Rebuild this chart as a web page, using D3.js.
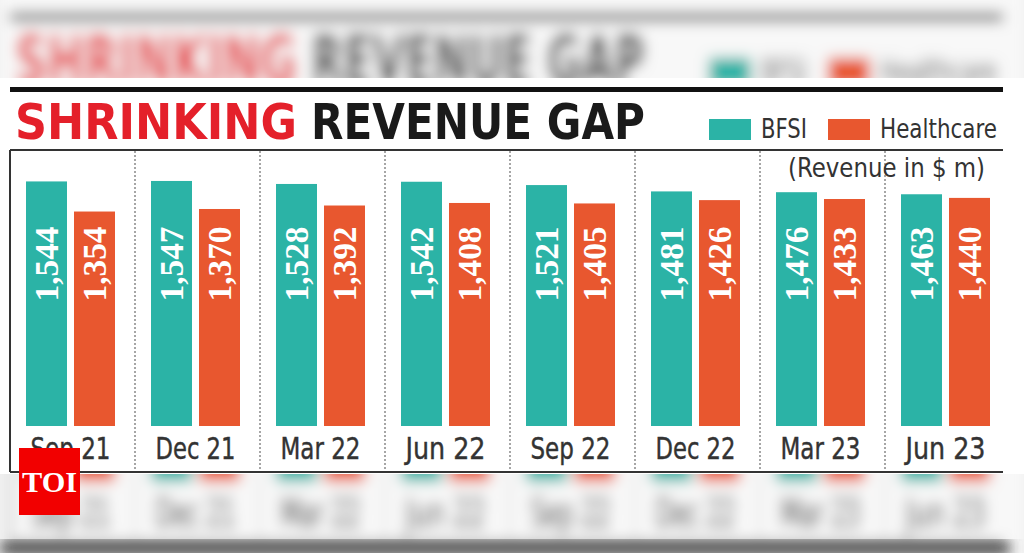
<!DOCTYPE html>
<html><head><meta charset="utf-8">
<script src="https://cdn.jsdelivr.net/npm/d3@7"></script>
<style>
html,body{margin:0;padding:0;background:#f2f2f2;overflow:hidden}
svg{display:block}
</style></head>
<body>
<svg id="c" width="1024" height="553"></svg>
<script>
// ---- data ----
const categories = ["Sep 21","Dec 21","Mar 22","Jun 22","Sep 22","Dec 22","Mar 23","Jun 23"];
const bfsi       = [1544, 1547, 1528, 1542, 1521, 1481, 1476, 1463];
const healthcare = [1354, 1370, 1392, 1408, 1405, 1426, 1433, 1440];
const seriesNames = ["BFSI", "Healthcare"];
const titleRed = "SHRINKING";
const titleBlack = "REVENUE GAP";
const unitNote = "(Revenue in $ m)";

const colors = {BFSI: "#2bb3a6", Healthcare: "#e8572f"};
const narrow = "'Liberation Sans Narrow','DejaVu Sans Condensed','Roboto Condensed',Roboto,'Liberation Sans',sans-serif";
const heavy = "'DejaVu Sans Condensed','DejaVu Sans','Liberation Sans',sans-serif";
const serif = "'Liberation Serif','DejaVu Serif',serif";

const svg = d3.select("#c");
const W = 1024, H = 553;

const x0 = d3.scaleBand().domain(categories).range([10, 1010]).padding(0);
const x1 = d3.scaleBand().domain(seriesNames).range([16, 105]).paddingInner(0.146).paddingOuter(0);
const y = d3.scaleLinear().domain([0, 1600]).range([426, 426 - 1600 * 0.1584]);

const rows = categories.map((c, i) => ({cat: c, values: [
  {key: "BFSI", v: bfsi[i]}, {key: "Healthcare", v: healthcare[i]}]}));

function draw(g, main) {
  // thick rule
  g.append("rect").attr("x", 10).attr("y", 87).attr("width", 993).attr("height", 5).attr("fill", "#111");
  // title
  g.append("text").attr("x", 15).attr("y", 139)
    .attr("font-family", heavy).attr("font-weight", "bold").attr("font-size", 50)
    .attr("fill", "#e4202a").attr("textLength", 282).attr("lengthAdjust", "spacingAndGlyphs")
    .text(titleRed);
  g.append("text").attr("x", 311).attr("y", 139)
    .attr("font-family", heavy).attr("font-weight", "bold").attr("font-size", 50)
    .attr("fill", "#1a1a1a").attr("textLength", 334).attr("lengthAdjust", "spacingAndGlyphs")
    .text(titleBlack);
  // legend
  const legX = [709, 828], legTW = [46, 117];
  seriesNames.forEach((s, i) => {
    g.append("rect").attr("x", legX[i]).attr("y", 119).attr("width", 42).attr("height", 21).attr("fill", colors[s]);
    g.append("text").attr("x", legX[i] + 52).attr("y", 138)
      .attr("font-family", narrow).attr("font-size", 26).attr("fill", "#333")
      .attr("textLength", legTW[i]).attr("lengthAdjust", "spacingAndGlyphs").text(s);
  });
  // box lines
  g.append("line").attr("x1", 10).attr("x2", 1003).attr("y1", 150).attr("y2", 150).attr("stroke", "#333").attr("stroke-width", 2);
  g.append("line").attr("x1", 10).attr("x2", 1003).attr("y1", 472).attr("y2", 472).attr("stroke", "#333").attr("stroke-width", main ? 2 : 4);
  g.append("line").attr("x1", 10).attr("x2", 10).attr("y1", 150).attr("y2", 472).attr("stroke", "#333").attr("stroke-width", 2);
  // separators
  g.selectAll(".sep").data(categories.slice(1)).enter().append("line")
    .attr("x1", d => x0(d)).attr("x2", d => x0(d)).attr("y1", 151).attr("y2", 471)
    .attr("stroke", "#777").attr("stroke-width", 1.3).attr("stroke-dasharray", "2,2");
  // unit note (hidden under the panel in the blurred copy, so only drawn in main)
  if (main) {
    g.append("text").attr("x", 985).attr("y", 177).attr("text-anchor", "end")
      .attr("font-family", narrow).attr("font-size", 27).attr("fill", "#333")
      .attr("textLength", 197).attr("lengthAdjust", "spacingAndGlyphs").text(unitNote);
  }
  // bars
  const grp = g.selectAll(".grp").data(rows).enter().append("g")
    .attr("transform", d => `translate(${x0(d.cat)},0)`);
  grp.selectAll("rect").data(d => d.values).enter().append("rect")
    .attr("x", d => x1(d.key)).attr("y", d => y(d.v))
    .attr("width", x1.bandwidth()).attr("height", d => y(0) - y(d.v))
    .attr("fill", d => colors[d.key]);
  if (main) {
    grp.selectAll(".val").data(d => d.values).enter().append("text")
      .attr("transform", d => `translate(${x1(d.key) + x1.bandwidth() / 2},264) rotate(-90)`)
      .attr("x", 0).attr("y", 11.5).attr("text-anchor", "middle")
      .attr("font-family", serif).attr("font-weight", "bold").attr("font-size", 34)
      .attr("fill", "#fff").attr("textLength", 75).attr("lengthAdjust", "spacingAndGlyphs")
      .text(d => d3.format(",")(d.v));
  }
  // category labels
  grp.append("text").attr("x", x1.range()[0] + (x1.range()[1] - x1.range()[0]) / 2).attr("y", 459)
    .attr("text-anchor", "middle").attr("font-family", narrow).attr("font-size", 30)
    .attr("fill", "#333").attr("stroke", "#333").attr("stroke-width", 0.4)
    .attr("textLength", 80).attr("lengthAdjust", "spacingAndGlyphs")
    .text(d => d.cat);
}

// blurred background copy
const defs = svg.append("defs");
defs.append("filter").attr("id", "blur").attr("x", "-10%").attr("y", "-10%").attr("width", "120%").attr("height", "120%")
  .append("feGaussianBlur").attr("stdDeviation", 7);
svg.append("rect").attr("width", W).attr("height", H).attr("fill", "#f0f0f0");
const bg = svg.append("g").attr("filter", "url(#blur)")
  .append("g").attr("transform", "translate(0,280) scale(1,1.38) translate(0,-280)");
bg.append("rect").attr("x", 0).attr("y", 60).attr("width", W).attr("height", 440).attr("fill", "#f8f8f8");
draw(bg, false);
// bottom dark band
svg.append("rect").attr("x", 0).attr("y", 541).attr("width", 1010).attr("height", 14)
  .attr("fill", "#4a4a4a").attr("filter", "url(#blur)");

// main white panel
svg.append("rect").attr("x", 0).attr("y", 78).attr("width", W).attr("height", 396).attr("fill", "#fff");
draw(svg.append("g"), true);

// TOI logo
const logo = svg.append("g");
logo.append("rect").attr("x", 19).attr("y", 448).attr("width", 61).attr("height", 67).attr("fill", "#f20000");
logo.append("text").attr("x", 49.5).attr("y", 492).attr("text-anchor", "middle")
  .attr("font-family", serif).attr("font-weight", "bold").attr("font-size", 30).attr("fill", "#fff")
  .attr("textLength", 55).attr("lengthAdjust", "spacingAndGlyphs").text("TOI");
</script>
</body></html>
